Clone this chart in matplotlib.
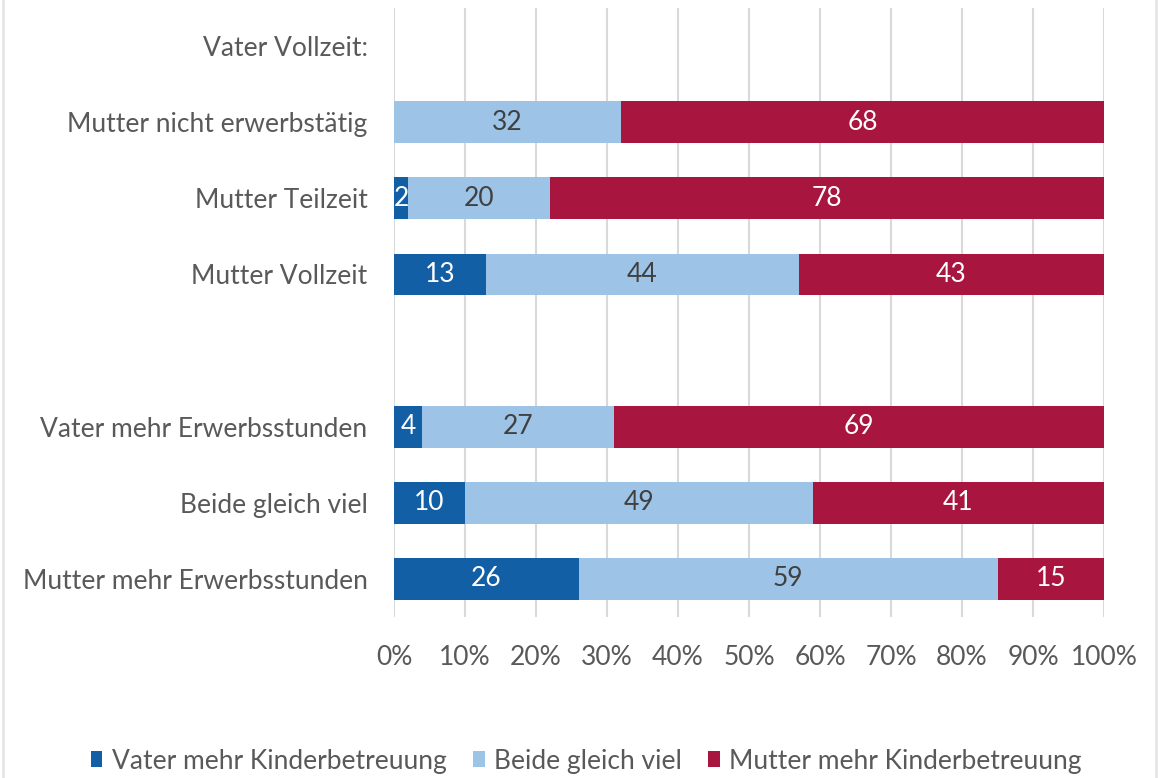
import matplotlib
matplotlib.use("Agg")
import matplotlib.pyplot as plt
from matplotlib.patches import Rectangle
import numpy as np

categories = ["Vater Vollzeit:", "Mutter nicht erwerbstätig", "Mutter Teilzeit", "Mutter Vollzeit", "",
              "Vater mehr Erwerbsstunden", "Beide gleich viel", "Mutter mehr Erwerbsstunden"]
has_bar = [False, True, True, True, False, True, True, True]
vater_mehr = [0, 0, 2, 13, 0, 4, 10, 26]
beide = [0, 32, 20, 44, 0, 27, 49, 59]
mutter_mehr = [0, 68, 78, 43, 0, 69, 41, 15]
series_names = ["Vater mehr Kinderbetreuung", "Beide gleich viel", "Mutter mehr Kinderbetreuung"]
colors = ["#135FA6", "#9DC3E6", "#A8153F"]
label_colors = ["white", "#404040", "white"]
xticks = [0, 10, 20, 30, 40, 50, 60, 70, 80, 90, 100]

plt.rcParams['font.family'] = ['Lato', 'DejaVu Sans']
fig = plt.figure(figsize=(11.63, 7.78), dpi=100)
ax = fig.add_axes([394/1163, 1-617/778, (1104-394)/1163, (617-8)/778])

y = np.arange(len(categories))
left = np.zeros(len(categories))
for vals, c, lc, name in zip([vater_mehr, beide, mutter_mehr], colors, label_colors, series_names):
    vals = np.array(vals, dtype=float)
    ax.barh(y, vals, left=left, height=0.55, color=c, label=name, zorder=3)
    for yi, v, l, hb in zip(y, vals, left, has_bar):
        if hb and v > 0:
            ax.text(l + v/2, yi, f"{int(v)}", ha="center", va="center", color=lc,
                    fontsize=19, zorder=4)
    left += vals

ax.set_xlim(0, 100)
ax.set_ylim(len(categories)-0.5, -0.5)
ax.set_yticks(y)
ax.set_yticklabels(categories, fontsize=19, color="#595959")
ax.set_xticks(xticks)
ax.set_xticklabels([f"{t}%" for t in xticks], fontsize=19, color="#595959")
ax.tick_params(axis='both', length=0)
ax.tick_params(axis='y', pad=19)
ax.tick_params(axis='x', pad=20)
for s in ax.spines.values():
    s.set_visible(False)
ax.grid(axis='x', color="#D9D9D9", linewidth=1.5, zorder=0)
ax.set_axisbelow(True)

handles, labels = ax.get_legend_handles_labels()
fig.legend(handles, labels, loc="center", bbox_to_anchor=(0.504, 1-761/778), ncol=3,
           frameon=False, fontsize=19, handlelength=0.45, handleheight=0.55,
           handletextpad=0.35, columnspacing=1.0, labelcolor="#595959")

fig.patches.append(Rectangle((0.003, -0.01), 0.991, 1.02, transform=fig.transFigure,
                             fill=False, edgecolor="#E6E6E6", linewidth=2))
fig.savefig("out.png", dpi=100, facecolor="white")
